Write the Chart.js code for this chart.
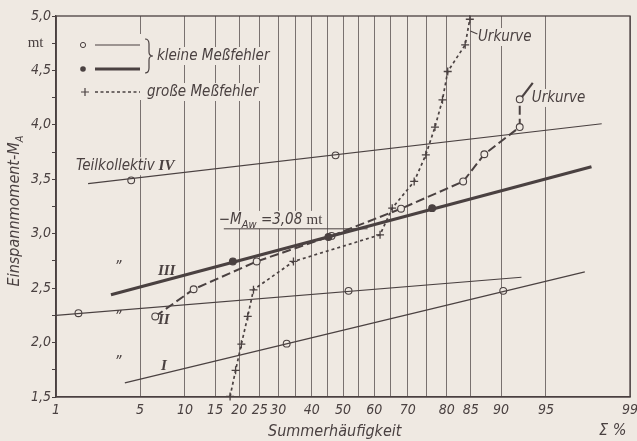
<!DOCTYPE html>
<html><head><meta charset="utf-8">
<script src="https://cdn.jsdelivr.net/npm/chart.js@4.4.1/dist/chart.umd.min.js"></script>
<style>html,body{margin:0;padding:0;background:#efe9e2;}canvas{display:block;}</style>
</head><body>
<canvas id="c" width="637" height="441"></canvas>
<script>
// ---------- data ----------
const gridPct    = [1,5,10,15,20,25,30,35,40,45,50,55,60,65,70,75,80,85,90,95,99];
const labeledPct = [1,5,10,15,20,25,30,40,50,60,70,80,85,90,95,99];
const yMin = 1.5, yMax = 5.0, yStep = 0.25;

// Teilkollektiv IV (thin line, open circles)
const lineIV_pct = [1.94, 98.2];  const lineIV_val = [3.46, 4.01];
const ptsIV_pct  = [4.3, 47.6];   const ptsIV_val  = [3.49, 3.72];
// Teilkollektiv II
const lineII_pct = [1.0, 92.6];   const lineII_val = [2.25, 2.60];
const ptsII_pct  = [1.6, 51.8];   const ptsII_val  = [2.27, 2.475];
// Teilkollektiv I
const lineI_pct  = [3.85, 97.5];  const lineI_val  = [1.63, 2.65];
const ptsI_pct   = [32.4, 90.3];  const ptsI_val   = [1.99, 2.475];
// Teilkollektiv III (thick line, filled dots)
const lineIII_pct = [3.0, 97.8];  const lineIII_val = [2.44, 3.615];
const ptsIII_pct  = [18.6, 45.3, 76.5]; const ptsIII_val = [2.745, 2.97, 3.235];
// Urkurve, kleine Meßfehler (dashed, open circles)
const urSmall_pct = [6.4, 11.3, 24.2, 46.3, 68.1, 83.5, 87.4, 92.4, 92.4];
const urSmall_val = [2.24, 2.49, 2.745, 2.98, 3.23, 3.48, 3.73, 3.98, 4.235];
// Urkurve, große Meßfehler (dotted, crosses)
const urLarge_pct = [18.0, 19.2, 20.5, 22.0, 23.4, 34.4, 61.8, 65.5, 71.8, 74.9, 77.2, 79.0, 80.2, 83.9, 84.8];
const urLarge_val = [1.505, 1.745, 1.985, 2.24, 2.485, 2.745, 2.99, 3.235, 3.48, 3.725, 3.98, 4.23, 4.49, 4.735, 4.97];
// reference line -M_Aw and label leaders
const mawLine_pct = [16.7, 57.9];  const mawLine_val = [3.045, 3.045];
const leadS_pct = [92.6, 93.8];    const leadS_val = [4.25, 4.385];
const leadL_pct = [84.9, 86.2];    const leadL_val = [4.862, 4.835];

// ---------- style ----------
const BG = '#efe9e2', INK = '#4a4141', GRID = 'rgba(74,65,65,0.8)';
const SANS = "'Liberation Sans Narrow','DejaVu Sans Condensed',sans-serif";
const SERIF = "'Liberation Serif','DejaVu Serif',serif";

// ---------- probability (normal) scale ----------
function probit(p){
  const a=[-3.969683028665376e+01,2.209460984245205e+02,-2.759285104469687e+02,1.383577518672690e+02,-3.066479806614716e+01,2.506628277459239e+00];
  const b=[-5.447609879822406e+01,1.615858368580409e+02,-1.556989798598866e+02,6.680131188771972e+01,-1.328068155288572e+01];
  const c=[-7.784894002430293e-03,-3.223964580411365e-01,-2.400758277161838e+00,-2.549732539343734e+00,4.374664141464968e+00,2.938163982698783e+00];
  const d=[7.784695709041462e-03,3.224671290700398e-01,2.445134137142996e+00,3.754408661907416e+00];
  const pl=0.02425, ph=1-pl; let q,r;
  if(p<pl){q=Math.sqrt(-2*Math.log(p));return (((((c[0]*q+c[1])*q+c[2])*q+c[3])*q+c[4])*q+c[5])/((((d[0]*q+d[1])*q+d[2])*q+d[3])*q+1);}
  if(p<=ph){q=p-0.5;r=q*q;return (((((a[0]*r+a[1])*r+a[2])*r+a[3])*r+a[4])*r+a[5])*q/(((((b[0]*r+b[1])*r+b[2])*r+b[3])*r+b[4])*r+1);}
  q=Math.sqrt(-2*Math.log(1-p));return -(((((c[0]*q+c[1])*q+c[2])*q+c[3])*q+c[4])*q+c[5])/((((d[0]*q+d[1])*q+d[2])*q+d[3])*q+1);
}
function ncdf(z){const t=1/(1+0.2316419*Math.abs(z));const y=0.3989423*Math.exp(-z*z/2)*t*(0.3193815+t*(-0.3565638+t*(1.781478+t*(-1.821256+t*1.330274))));return z>0?1-y:y;}

class ProbitScale extends Chart.Scale {
  static id = 'probit';
  static defaults = {};
  parse(raw){ return raw === null || raw === undefined ? null : +raw; }
  determineDataLimits(){ this.min = this.options.min; this.max = this.options.max; }
  buildTicks(){ return gridPct.map(v => ({value: v})); }
  configure(){ super.configure(); this._z0 = probit(this.min/100); this._z1 = probit(this.max/100); }
  getLabelForValue(v){ return String(v); }
  getPixelForValue(v){ return this.getPixelForDecimal((probit(v/100) - this._z0)/(this._z1 - this._z0)); }
  getValueForPixel(px){ const dec = this.getDecimalForPixel(px); return 100*ncdf(this._z0 + dec*(this._z1-this._z0)); }
}
Chart.register(ProbitScale);

const pts = (p, v) => p.map((x, i) => ({x, y: v[i]}));

function lineDs(p, v, w, dash){ return {data: pts(p, v), borderColor: INK, borderWidth: w, borderDash: dash || [], pointRadius: 0, tension: 0, fill: false}; }
function markDs(p, v, style, filled){ return {data: pts(p, v), showLine: false, pointStyle: style, pointRadius: 3.4,
  pointBorderColor: INK, pointBorderWidth: 1.1, pointBackgroundColor: filled ? INK : BG}; }

const datasets = [
  lineDs(lineIV_pct, lineIV_val, 1.2), markDs(ptsIV_pct, ptsIV_val, 'circle', false),
  lineDs(lineII_pct, lineII_val, 1.2), markDs(ptsII_pct, ptsII_val, 'circle', false),
  lineDs(lineI_pct, lineI_val, 1.2),  markDs(ptsI_pct, ptsI_val, 'circle', false),
  lineDs(lineIII_pct, lineIII_val, 3.2), markDs(ptsIII_pct, ptsIII_val, 'circle', true),
  lineDs(mawLine_pct, mawLine_val, 1.0),
  Object.assign(lineDs(urSmall_pct, urSmall_val, 2.0, [9, 4]), {pointRadius: 3.4, pointStyle: 'circle', pointBorderColor: INK, pointBorderWidth: 1.1, pointBackgroundColor: BG}),
  lineDs(leadS_pct, leadS_val, 2.2),
  Object.assign(lineDs(urLarge_pct, urLarge_val, 1.7, [3, 3]), {pointRadius: 4, pointStyle: 'cross', pointBorderColor: INK, pointBorderWidth: 1.3, clip: false}),
  lineDs(leadL_pct, leadL_val, 1.2),
];

// text annotations (positions in data units)
const notes = [
  {p: 1.52, v: 3.62,  runs: [['Teilkollektiv', 'it'], [' IV', 'rom']]},
  {p: 6.68, v: 2.658, runs: [['III', 'rom']]},
  {p: 6.68, v: 2.21,  runs: [['II', 'rom']]},
  {p: 7.0,  v: 1.786, runs: [['I', 'rom']]},
  {p: 3.2,  v: 2.686, runs: [['\u201D', 'it']]},
  {p: 3.2,  v: 2.227, runs: [['\u201D', 'it']]},
  {p: 3.2,  v: 1.813, runs: [['\u201D', 'it']]},
  {p: 15.7, v: 3.127, runs: [['\u2212M', 'it'], ['Aw', 'sub'], [' =3,08 ', 'it'], ['mt', 'mt']]},
  {p: 86.3, v: 4.807, runs: [['Urkurve', 'it']]},
  {p: 93.7, v: 4.247, runs: [['Urkurve', 'it']]},
];

function fontOf(k){
  switch(k){
    case 'it': return `italic 15px ${SANS}`;
    case 'sub': return `italic 11px ${SANS}`;
    case 'rom': return `bold italic 15px ${SERIF}`;
    case 'mt': return `15px ${SERIF}`;
    case 'big': return `italic 16px ${SANS}`;
  }
}
function runsWidth(ctx, runs){ let w = 0; for (const [t, k] of runs){ ctx.font = fontOf(k); w += ctx.measureText(t).width; } return w; }
function drawRuns(ctx, x, y, runs){
  ctx.textBaseline = 'middle'; ctx.textAlign = 'left'; ctx.fillStyle = INK;
  for (const [t, k] of runs){ ctx.font = fontOf(k); ctx.fillText(t, x, y + (k === 'sub' ? 5 : 0)); x += ctx.measureText(t).width; }
}

// legend layout relative to chart area
const legendRows = [
  {dx: 27, dy: 29, marker: 'open', line: 'thin'},
  {dx: 27, dy: 53, marker: 'dot', line: 'thick'},
  {dx: 29, dy: 76, marker: 'cross', line: 'dotted'},
];
const legendTexts = [
  {dx: 101, dy: 40, text: 'kleine Meßfehler'},
  {dx: 91, dy: 76, text: 'große Meßfehler'},
];

const inkPlugin = {
  id: 'ink',
  beforeDraw(chart){ const {ctx, width, height} = chart; ctx.save(); ctx.fillStyle = BG; ctx.fillRect(0, 0, width, height); ctx.restore(); },
  beforeDatasetsDraw(chart){
    const {ctx, chartArea: ca, scales: {x, y}} = chart;
    ctx.save(); ctx.fillStyle = BG;
    for (const n of notes){
      const px = x.getPixelForValue(n.p), py = y.getPixelForValue(n.v);
      ctx.fillRect(px - 2, py - 9, runsWidth(ctx, n.runs) + 4, 18);
    }
    // legend: marker block + text rows
    ctx.fillRect(ca.left + 20, ca.top + 18, 80, 66);
    for (const t of legendTexts){
      const w = runsWidth(ctx, [[t.text, 'it']]);
      ctx.fillRect(ca.left + t.dx - 2, ca.top + t.dy - 9, w + 4, 18);
    }
    ctx.restore();
  },
  afterDraw(chart){
    const {ctx, chartArea: ca, scales: {x, y}} = chart;
    ctx.save();
    // frame
    ctx.strokeStyle = INK; ctx.lineWidth = 1.3;
    ctx.strokeRect(ca.left, ca.top, ca.right - ca.left, ca.bottom - ca.top);
    // annotations
    for (const n of notes) drawRuns(ctx, x.getPixelForValue(n.p), y.getPixelForValue(n.v), n.runs);
    // legend
    const L = ca.left, T = ca.top;
    for (const r of legendRows){
      const mx = L + r.dx, my = T + r.dy;
      ctx.strokeStyle = INK; ctx.fillStyle = INK;
      if (r.marker === 'open'){ ctx.beginPath(); ctx.arc(mx, my, 2.6, 0, 2*Math.PI); ctx.fillStyle = BG; ctx.fill(); ctx.lineWidth = 1; ctx.stroke(); }
      if (r.marker === 'dot'){ ctx.beginPath(); ctx.arc(mx, my, 2.8, 0, 2*Math.PI); ctx.fill(); }
      if (r.marker === 'cross'){ ctx.lineWidth = 1.2; ctx.beginPath(); ctx.moveTo(mx-4, my); ctx.lineTo(mx+4, my); ctx.moveTo(mx, my-4); ctx.lineTo(mx, my+4); ctx.stroke(); }
      ctx.beginPath();
      ctx.lineWidth = r.line === 'thick' ? 3 : (r.line === 'dotted' ? 1.6 : 1.1);
      ctx.setLineDash(r.line === 'dotted' ? [3, 2.5] : []);
      ctx.moveTo(L + 39, my); ctx.lineTo(L + 84, my); ctx.stroke();
      ctx.setLineDash([]);
    }
    // brace
    const bx = L + 89, by0 = T + 23, by1 = T + 57, bm = (by0 + by1)/2;
    ctx.lineWidth = 1.2; ctx.beginPath();
    ctx.moveTo(bx, by0); ctx.quadraticCurveTo(bx + 4, by0, bx + 4, by0 + 5);
    ctx.lineTo(bx + 4, bm - 4); ctx.quadraticCurveTo(bx + 4, bm, bx + 8, bm);
    ctx.quadraticCurveTo(bx + 4, bm, bx + 4, bm + 4);
    ctx.lineTo(bx + 4, by1 - 5); ctx.quadraticCurveTo(bx + 4, by1, bx, by1);
    ctx.stroke();
    for (const t of legendTexts) drawRuns(ctx, L + t.dx, T + t.dy, [[t.text, 'it']]);
    // axis titles
    drawRuns(ctx, 268, 432, [['Summerhäufigkeit', 'big']]);
    drawRuns(ctx, 599, 431, [['\u03A3 %', 'big']]);
    ctx.save();
    ctx.translate(15, 211); ctx.rotate(-Math.PI/2);
    const yr = [['Einspannmoment-M', 'big'], ['A', 'sub']];
    drawRuns(ctx, -runsWidth(ctx, yr)/2, 0, yr);
    ctx.restore();
    ctx.restore();
  }
};

new Chart(document.getElementById('c'), {
  type: 'line',
  data: {datasets},
  plugins: [inkPlugin],
  options: {
    responsive: false, animation: false, events: [],
    layout: {padding: {top: 16, right: 7, left: 0, bottom: 0}},
    plugins: {legend: {display: false}, tooltip: {enabled: false}},
    scales: {
      x: {
        type: 'probit', min: 1, max: 99,
        afterFit(s){ s.height = 44; s.paddingLeft = 0; s.paddingRight = 0; },
        grid: {drawOnChartArea: true, drawTicks: false, color: GRID, lineWidth: 0.9},
        border: {color: INK, width: 1.3},
        ticks: {autoSkip: false, maxRotation: 0, padding: 5, color: INK,
          font: {family: SANS, size: 14, style: 'italic'},
          callback: v => labeledPct.includes(v) ? String(v) : ''}
      },
      y: {
        type: 'linear', min: yMin, max: yMax,
        afterFit(s){ s.width = 56; s.paddingTop = 0; s.paddingBottom = 0; },
        grid: {drawOnChartArea: false, drawTicks: true, tickLength: 4, color: INK, lineWidth: 1},
        border: {color: INK, width: 1.3},
        ticks: {stepSize: yStep, padding: 1, color: INK, autoSkip: false,
          font: ctx => (ctx.tick && Math.abs(ctx.tick.value - 4.75) < 1e-6)
            ? {family: SERIF, size: 15, style: 'normal'}
            : {family: SANS, size: 14, style: 'italic'},
          callback: v => {
            if (Math.abs(v*2 - Math.round(v*2)) < 1e-6) return v.toFixed(1).replace('.', ',');
            if (Math.abs(v - 4.75) < 1e-6) return 'mt  ';
            return '';
          }}
      }
    }
  }
});
</script>
</body></html>
